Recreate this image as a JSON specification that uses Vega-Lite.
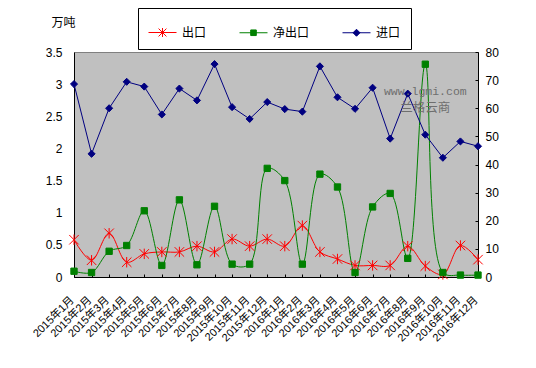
{
  "$schema": "https://vega.github.io/schema/vega-lite/v6.json",
  "width": 404,
  "height": 225,
  "autosize": {"type": "none"},
  "padding": {"left": 74, "top": 52, "right": 58, "bottom": 91},
  "background": "white",
  "config": {
    "font": "Liberation Sans, Noto Sans CJK SC",
    "view": {"stroke": "#808080", "strokeWidth": 1, "fill": "#C0C0C0"},
    "axis": {"grid": false, "labelColor": "#000000", "labelFontSize": 12, "labelFont": "Liberation Sans, Noto Sans CJK SC", "domainColor": "#000000", "tickColor": "#000000", "titleFont": "Liberation Sans, Noto Sans CJK SC"}
  },
  "data": {
    "values": [
      {"m": "2015年1月", "s": "出口", "v": 0.58}, {"m": "2015年2月", "s": "出口", "v": 0.26}, {"m": "2015年3月", "s": "出口", "v": 0.68}, {"m": "2015年4月", "s": "出口", "v": 0.23},
      {"m": "2015年5月", "s": "出口", "v": 0.36}, {"m": "2015年6月", "s": "出口", "v": 0.39}, {"m": "2015年7月", "s": "出口", "v": 0.39}, {"m": "2015年8月", "s": "出口", "v": 0.48},
      {"m": "2015年9月", "s": "出口", "v": 0.39}, {"m": "2015年10月", "s": "出口", "v": 0.59}, {"m": "2015年11月", "s": "出口", "v": 0.48}, {"m": "2015年12月", "s": "出口", "v": 0.59},
      {"m": "2016年1月", "s": "出口", "v": 0.48}, {"m": "2016年2月", "s": "出口", "v": 0.8}, {"m": "2016年3月", "s": "出口", "v": 0.39}, {"m": "2016年4月", "s": "出口", "v": 0.28},
      {"m": "2016年5月", "s": "出口", "v": 0.18}, {"m": "2016年6月", "s": "出口", "v": 0.18}, {"m": "2016年7月", "s": "出口", "v": 0.18}, {"m": "2016年8月", "s": "出口", "v": 0.48},
      {"m": "2016年9月", "s": "出口", "v": 0.17}, {"m": "2016年10月", "s": "出口", "v": 0.04}, {"m": "2016年11月", "s": "出口", "v": 0.49}, {"m": "2016年12月", "s": "出口", "v": 0.27},
      {"m": "2015年1月", "s": "净出口", "v": 0.09}, {"m": "2015年2月", "s": "净出口", "v": 0.07}, {"m": "2015年3月", "s": "净出口", "v": 0.4}, {"m": "2015年4月", "s": "净出口", "v": 0.49},
      {"m": "2015年5月", "s": "净出口", "v": 1.03}, {"m": "2015年6月", "s": "净出口", "v": 0.18}, {"m": "2015年7月", "s": "净出口", "v": 1.2}, {"m": "2015年8月", "s": "净出口", "v": 0.19},
      {"m": "2015年9月", "s": "净出口", "v": 1.1}, {"m": "2015年10月", "s": "净出口", "v": 0.2}, {"m": "2015年11月", "s": "净出口", "v": 0.2}, {"m": "2015年12月", "s": "净出口", "v": 1.69},
      {"m": "2016年1月", "s": "净出口", "v": 1.5}, {"m": "2016年2月", "s": "净出口", "v": 0.2}, {"m": "2016年3月", "s": "净出口", "v": 1.6}, {"m": "2016年4月", "s": "净出口", "v": 1.4},
      {"m": "2016年5月", "s": "净出口", "v": 0.07}, {"m": "2016年6月", "s": "净出口", "v": 1.09}, {"m": "2016年7月", "s": "净出口", "v": 1.3}, {"m": "2016年8月", "s": "净出口", "v": 0.29},
      {"m": "2016年9月", "s": "净出口", "v": 3.31}, {"m": "2016年10月", "s": "净出口", "v": 0.07}, {"m": "2016年11月", "s": "净出口", "v": 0.03}, {"m": "2016年12月", "s": "净出口", "v": 0.03},
      {"m": "2015年1月", "s": "进口", "v": 68.6}, {"m": "2015年2月", "s": "进口", "v": 43.8}, {"m": "2015年3月", "s": "进口", "v": 60.0}, {"m": "2015年4月", "s": "进口", "v": 69.4},
      {"m": "2015年5月", "s": "进口", "v": 67.7}, {"m": "2015年6月", "s": "进口", "v": 57.8}, {"m": "2015年7月", "s": "进口", "v": 67.0}, {"m": "2015年8月", "s": "进口", "v": 62.8},
      {"m": "2015年9月", "s": "进口", "v": 75.7}, {"m": "2015年10月", "s": "进口", "v": 60.4}, {"m": "2015年11月", "s": "进口", "v": 56.2}, {"m": "2015年12月", "s": "进口", "v": 62.2},
      {"m": "2016年1月", "s": "进口", "v": 59.7}, {"m": "2016年2月", "s": "进口", "v": 58.8}, {"m": "2016年3月", "s": "进口", "v": 74.9}, {"m": "2016年4月", "s": "进口", "v": 63.9},
      {"m": "2016年5月", "s": "进口", "v": 59.8}, {"m": "2016年6月", "s": "进口", "v": 67.3}, {"m": "2016年7月", "s": "进口", "v": 49.2}, {"m": "2016年8月", "s": "进口", "v": 65.2},
      {"m": "2016年9月", "s": "进口", "v": 50.6}, {"m": "2016年10月", "s": "进口", "v": 42.4}, {"m": "2016年11月", "s": "进口", "v": 48.2}, {"m": "2016年12月", "s": "进口", "v": 46.5}
    ]
  },
  "encoding": {
    "x": {
      "field": "m", "type": "ordinal",
      "scale": {"type": "point", "padding": 0, "domain": ["2015年1月","2015年2月","2015年3月","2015年4月","2015年5月","2015年6月","2015年7月","2015年8月","2015年9月","2015年10月","2015年11月","2015年12月","2016年1月","2016年2月","2016年3月","2016年4月","2016年5月","2016年6月","2016年7月","2016年8月","2016年9月","2016年10月","2016年11月","2016年12月"]},
      "axis": {"title": null, "labelAngle": -45, "labelAlign": "right", "labelBaseline": "middle", "labelFontSize": 11, "labelPadding": 24, "labelOffset": -2, "tickSize": -3, "labelOverlap": false, "domainWidth": 1}
    }
  },
  "layer": [
    {
      "transform": [{"filter": "datum.s !== '进口'"}],
      "encoding": {
        "y": {"field": "v", "type": "quantitative",
          "scale": {"domain": [0, 3.5], "nice": false, "zero": true},
          "axis": {"orient": "left", "values": [0, 0.5, 1, 1.5, 2, 2.5, 3, 3.5], "format": "~g", "ticks": false, "labelPadding": 12, "title": "万吨", "titleAngle": 0, "titleX": -11, "titleY": -30, "titleAlign": "center", "titleBaseline": "middle", "titleFontWeight": "normal", "titleFontSize": 12}
        }
      },
      "layer": [
        {
          "mark": {"type": "line", "interpolate": "catmull-rom", "strokeWidth": 1, "clip": true},
          "encoding": {
            "color": {"field": "s", "type": "nominal",
              "scale": {"domain": ["出口", "净出口", "进口"], "range": ["#FF0000", "#008000", "#000080"]},
              "legend": {
                "title": null, "orient": "none", "legendX": 64, "legendY": -44, "direction": "horizontal",
                "strokeColor": "#000000", "padding": 10, "columnPadding": 30, "labelOffset": 5,
                "symbolSize": 784, "symbolStrokeWidth": 1, "labelFontSize": 12, "labelColor": "#000000",
                "labelFont": "Liberation Sans, Noto Sans CJK SC",
                "encode": {"symbols": {"update": {
                  "shape": {"signal": "datum.value === '出口' ? 'M-1,0H1M-0.28,-0.28L0.28,0.28M-0.28,0.28L0.28,-0.28M0,-0.32V0.32' : datum.value === '净出口' ? 'M-1,0H1M-0.2,-0.2H0.2V0.2H-0.2Z' : 'M-1,0H1M-0.25,0L0,-0.25L0.25,0L0,0.25Z'"},
                  "fill": {"signal": "scale('color', datum.value)"},
                  "stroke": {"signal": "scale('color', datum.value)"},
                  "opacity": {"value": 1}
                }}}
              }
            }
          }
        },
        {
          "mark": {"type": "point", "filled": true, "opacity": 1, "strokeWidth": 1},
          "encoding": {
            "color": {"field": "s", "type": "nominal"},
            "stroke": {"field": "s", "type": "nominal", "scale": {"domain": ["出口", "净出口", "进口"], "range": ["#FF0000", "#008000", "#000080"]}, "legend": null},
            "shape": {"field": "s", "type": "nominal", "scale": {"domain": ["出口", "净出口"], "range": ["M-1,-1L1,1M-1,1L1,-1M0,-1.1V1.1", "square"]}, "legend": null},
            "size": {"field": "s", "type": "nominal", "scale": {"domain": ["出口", "净出口"], "range": [90, 40]}, "legend": null}
          }
        }
      ]
    },
    {
      "transform": [{"filter": "datum.s === '进口'"}],
      "encoding": {
        "y": {"field": "v", "type": "quantitative",
          "scale": {"domain": [0, 80], "nice": false},
          "axis": {"orient": "right", "values": [0, 10, 20, 30, 40, 50, 60, 70, 80], "tickSize": -3, "labelPadding": 10, "title": null}
        }
      },
      "layer": [
        {
          "mark": {"type": "line", "strokeWidth": 1},
          "encoding": {"color": {"field": "s", "type": "nominal"}}
        },
        {
          "mark": {"type": "point", "filled": true, "opacity": 1, "shape": "diamond", "size": 50, "strokeWidth": 1, "stroke": "#000080"},
          "encoding": {"color": {"field": "s", "type": "nominal"}}
        }
      ]
    },
    {
      "data": {"values": [{"t": "www.lgmi.com", "k": "a"}, {"t": "兰格云商", "k": "b"}]},
      "transform": [{"filter": "datum.k === 'a'"}],
      "mark": {"type": "text", "font": "Liberation Mono", "fontSize": 11.5, "color": "#6E6E6E", "align": "center", "baseline": "middle"},
      "encoding": {
        "x": {"datum": "2016年9月"},
        "y": {"datum": 2.88, "scale": {"domain": [0, 3.5]}, "axis": null},
        "text": {"field": "t"}
      }
    },
    {
      "data": {"values": [{"t": "www.lgmi.com", "k": "a"}, {"t": "兰格云商", "k": "b"}]},
      "transform": [{"filter": "datum.k === 'b'"}],
      "mark": {"type": "text", "font": "Noto Sans CJK SC", "fontSize": 12.5, "color": "#6E6E6E", "align": "center", "baseline": "middle"},
      "encoding": {
        "x": {"datum": "2016年9月"},
        "y": {"datum": 2.63, "scale": {"domain": [0, 3.5]}, "axis": null},
        "text": {"field": "t"}
      }
    }
  ],
  "resolve": {"scale": {"y": "independent"}}
}
